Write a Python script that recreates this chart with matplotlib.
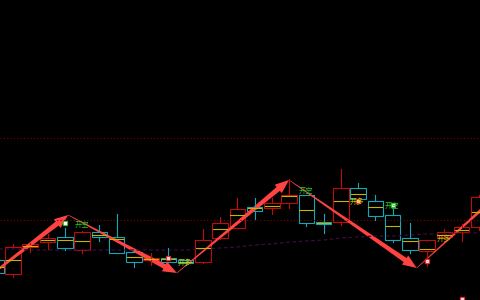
import numpy as np
import matplotlib.pyplot as plt
from matplotlib.patches import Rectangle, Polygon

plt.rcParams['font.family'] = ['Noto Sans CJK SC', 'DejaVu Sans']

# candle data, index -1 is the half-cut bar on the left edge
idx = list(range(-1, 28))
opens = [40, 26, 53, 58, 63, 50, 68, 63, 48, 40, 42, 40, 38, 62, 72,
         93, 92, 97, 105, 78, 78, 112, 99, 85, 62, 49, 63, 68, 73]
closes = [27, 53, 56, 62, 52, 68, 63, 47, 38, 42, 38, 37, 60, 77, 91,
          89, 97, 105, 77, 76, 112, 101, 84, 60, 50, 60, 68, 73, 103]
highs = [42, 56, 57, 66, 72, 69, 75, 86, 49, 47, 52, 41, 71, 83, 102,
         102, 102, 121, 105, 86, 131, 117, 105, 91, 77, 60, 71, 76, 105]
lows = [25, 23, 48, 51, 50, 47, 59, 47, 33, 35, 38, 35, 37, 61, 72,
        81, 86, 92, 74, 67, 75, 99, 80, 58, 47, 34, 61, 59, 70]
mids = [33, 40, 54, 60, 60, 59, 65, 61, 43, 41, 41, 38, 52, 71, 85,
        92, 94, 104, 90, 77, 99, 106, 93, 74, 59, 51, 65, 70, 88]
ma = [51, 51, 50, 50, 50, 50, 50, 50, 50, 50, 50, 50, 51, 52, 53,
      55, 56, 58, 59, 60, 62, 63, 64, 64, 65, 66, 66, 67, 67]

# zigzag turning points
zig_x = [-3.0, 3.2, 9.5, 16.0, 23.4, 31.0]
zig_y = [2, 85, 27, 120, 32, 150]

# signals
short_x = [3, 22]
short_y = [77, 95]
long_x = [9, 20, 24, 26]
long_y = [42, 99, 39, 1]
short_txt = [(3.97, 75), (16.96, 109), (21.97, 94)]
long_txt = [(9.97, 37), (19.94, 98), (24.96, 61)]
levels = [162, 80]

RED = '#c00c0c'
CYAN = '#12a8b8'
YEL = '#c8b400'

fig = plt.figure(figsize=(4.8, 3.0), dpi=100, facecolor='black')
ax = fig.add_axes([0, 0, 1, 1])
ax.set_facecolor('black')
ax.set_xlim(-0.754, 27.07)
ax.set_ylim(0, 300)
ax.axis('off')

for lv in levels:
    ax.axhline(lv, color='#800000', lw=0.8, ls=(0, (1, 2)))

ax.plot(idx, ma, color='#3c0a3c', lw=0.9, ls=(0, (3, 2)))

w = 0.9
for i, o, c, h, l, m in zip(idx, opens, closes, highs, lows, mids):
    col = RED if c >= o else CYAN
    top = max(o, c)
    bot = min(o, c)
    ax.add_patch(Rectangle((i - w / 2, bot), w, top - bot, fill=False,
                           ec=col, lw=0.8))
    if h > top:
        ax.plot([i, i], [top, h], color=col, lw=0.8)
    if l < bot:
        ax.plot([i, i], [l, bot], color=col, lw=0.8)
    ax.plot([i - w / 2 + 0.05, i + w / 2 - 0.05], [m, m], color=YEL, lw=0.8)


def taper(x0, y0, x1, y1, w0=0.6, w1=5.0, hw=11, hl=14, color='#ff4242'):
    p0 = ax.transData.transform((x0, y0))
    p1 = ax.transData.transform((x1, y1))
    d = p1 - p0
    u = d / np.hypot(*d)
    n = np.array([-u[1], u[0]])
    b = p1 - u * hl
    pts = [p0 + n * w0 / 2, b + n * w1 / 2, b + n * hw / 2, p1,
           b - n * hw / 2, b - n * w1 / 2, p0 - n * w0 / 2]
    data = ax.transData.inverted().transform(pts)
    ax.add_patch(Polygon(data, closed=True, fc=color, ec='none'))


for k in range(len(zig_x) - 1):
    taper(zig_x[k], zig_y[k], zig_x[k + 1], zig_y[k + 1])

ax.scatter(short_x, short_y, marker='s', s=7, color='#20b020', zorder=5)
ax.scatter(short_x, short_y, marker='s', s=1.2, color='white', zorder=6)
ax.scatter(long_x, long_y, marker='s', s=7, color='#e01818', zorder=5)
ax.scatter(long_x, long_y, marker='s', s=1.2, color='#ffd0d0', zorder=6)

for x, y in short_txt:
    ax.text(x, y, '开空', color='#28c828', fontsize=5.2, ha='center',
            va='center', zorder=7)
for x, y in long_txt:
    ax.text(x, y, '开多', color='#c8c800', fontsize=5.2, ha='center',
            va='center', zorder=7)

fig.savefig('out.png', dpi=100, facecolor='black')
